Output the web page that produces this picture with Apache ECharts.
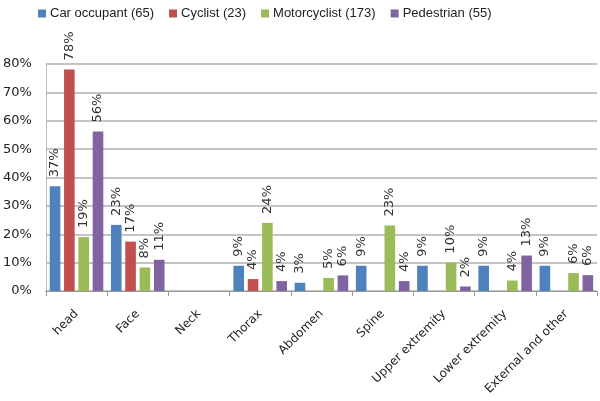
<!DOCTYPE html>
<html><head><meta charset="utf-8">
<script src="https://cdn.jsdelivr.net/npm/echarts@6/dist/echarts.min.js"></script>
<style>html,body{margin:0;padding:0;background:#fff}#c{width:600px;height:401px}</style>
</head><body><div id="c"></div>
<script>
const categories = ['head','Face','Neck','Thorax','Abdomen','Spine','Upper extremity','Lower extremity','External and other'];
const seriesNames = ['Car occupant (65)','Cyclist (23)','Motorcyclist (173)','Pedestrian (55)'];
const carOccupant = [36.9, 23.3, null, 8.9, 2.9, 8.9, 8.9, 8.9, 8.9];
const cyclist = [78.1, 17.4, null, 4.2, null, null, null, null, null];
const motorcyclist = [19.0, 8.3, null, 24.0, 4.6, 23.1, 10.0, 3.7, 6.3];
const pedestrian = [56.2, 11.0, null, 3.5, 5.5, 3.5, 1.6, 12.5, 5.6];
const yTicks = [0,10,20,30,40,50,60,70,80];
const colors = ['#4F81BD','#C0504D','#9BBB59','#8064A2'];

const font = 'DejaVu Sans, Verdana, sans-serif';
const legendFont = 'Liberation Sans, Arial, sans-serif';
const chart = echarts.init(document.getElementById('c'));
const mk = (name, data, i) => ({
  name, type: 'bar', data,
  itemStyle: { color: colors[i] },
  barGap: '35%', barCategoryGap: '12.5%',
  label: {
    show: true, position: 'top', rotate: 90, align: 'left', verticalAlign: 'middle',
    distance: 9, fontFamily: font, fontSize: 13, color: '#333',
    formatter: p => Math.round(p.value) + '%'
  }
});
chart.setOption({
  animation: false,
  legend: {
    top: 2, left: 33, itemWidth: 8, itemHeight: 8, itemGap: 15, icon: 'rect',
    textStyle: { fontFamily: legendFont, fontSize: 13, color: '#222', padding: [0,0,0,-1] },
    data: seriesNames
  },
  grid: { left: 45, right: 3, top: 64, bottom: 110, containLabel: false },
  xAxis: {
    type: 'category', data: categories,
    axisLine: { lineStyle: { color: '#999', width: 1 } },
    axisTick: { show: true, alignWithLabel: false, length: 5, lineStyle: { color: '#999' } },
    axisLabel: { rotate: 45, interval: 0, margin: 21, fontFamily: font, fontSize: 12, color: '#222' }
  },
  yAxis: {
    type: 'value', min: 0, max: 80, interval: 10,
    axisLine: { show: true, lineStyle: { color: '#bbb' } },
    axisTick: { show: false },
    splitLine: { lineStyle: { color: '#b0b0b0', width: 1.5 } },
    axisLabel: { fontFamily: font, fontSize: 13, color: '#222', margin: 14,
      formatter: v => yTicks.includes(v) ? v + '%' : '' }
  },
  series: [
    mk(seriesNames[0], carOccupant, 0),
    mk(seriesNames[1], cyclist, 1),
    mk(seriesNames[2], motorcyclist, 2),
    mk(seriesNames[3], pedestrian, 3)
  ]
});
</script></body></html>
